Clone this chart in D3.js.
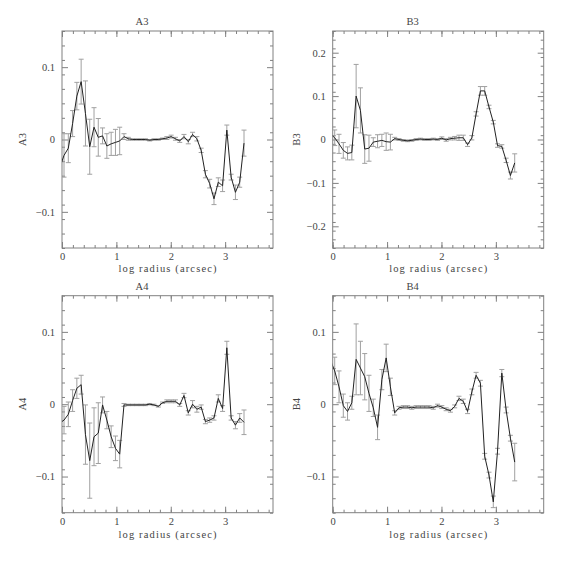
<!DOCTYPE html>
<html>
<head>
<meta charset="utf-8">
<script src="https://cdn.jsdelivr.net/npm/d3@7"></script>
<style>
  body { margin: 0; background: #fff; }
  text { font-family: 'Liberation Serif', serif; fill: #444; }
</style>
</head>
<body>
<script>
// log radius of each isophote (first one falls just left of the frame)
var logR = [-0.042, 0.037, 0.116, 0.195, 0.273, 0.352, 0.431, 0.510, 0.589, 0.667, 0.746,
  0.825, 0.904, 0.983, 1.061, 1.140, 1.219, 1.298, 1.377, 1.455, 1.534,
  1.613, 1.692, 1.771, 1.849, 1.928, 2.007, 2.086, 2.165, 2.243, 2.322,
  2.401, 2.480, 2.559, 2.637, 2.716, 2.795, 2.874, 2.953, 3.031, 3.110,
  3.189, 3.268, 3.347];

var a3 = [-0.039, -0.022, -0.012, 0.022, 0.060, 0.080, 0.036, -0.010, 0.017, 0.003, 0.005,
  -0.009, -0.006, -0.004, -0.002, 0.004, 0.001, 0.000, 0.000, 0.000, 0.000,
  -0.001, 0.000, 0.000, 0.001, 0.002, 0.004, 0.001, -0.002, 0.004, -0.003,
  0.007, 0.001, -0.015, -0.048, -0.061, -0.082, -0.059, -0.064, 0.013, -0.052,
  -0.073, -0.059, -0.005];
var a3Err = [0.030, 0.030, 0.020, 0.018, 0.019, 0.031, 0.045, 0.038, 0.027, 0.026, 0.011,
  0.017, 0.016, 0.018, 0.019, 0.004, 0.002, 0.001, 0.001, 0.001, 0.001,
  0.001, 0.001, 0.001, 0.001, 0.002, 0.002, 0.002, 0.002, 0.003, 0.003,
  0.003, 0.003, 0.003, 0.005, 0.006, 0.008, 0.006, 0.008, 0.007, 0.004,
  0.010, 0.007, 0.018];

var b3 = [0.0125, 0.004, -0.010, -0.025, -0.032, -0.030, 0.100, 0.067, -0.022, -0.020, -0.006,
  -0.004, -0.002, -0.005, -0.006, 0.002, 0.000, -0.002, -0.003, -0.002, 0.000,
  0.001, 0.000, 0.000, 0.001, 0.000, 0.003, -0.001, 0.002, 0.003, 0.004,
  0.004, -0.012, 0.004, 0.059, 0.112, 0.112, 0.075, 0.040, -0.014, -0.016,
  -0.048, -0.083, -0.054];
var b3Err = [0.018, 0.018, 0.022, 0.018, 0.015, 0.017, 0.073, 0.052, 0.033, 0.030, 0.010,
  0.015, 0.014, 0.020, 0.018, 0.003, 0.002, 0.002, 0.002, 0.002, 0.002,
  0.002, 0.002, 0.002, 0.002, 0.002, 0.003, 0.003, 0.003, 0.004, 0.006,
  0.006, 0.004, 0.005, 0.005, 0.010, 0.010, 0.004, 0.004, 0.004, 0.004,
  0.005, 0.008, 0.021];

var a4 = [-0.026, -0.022, -0.014, 0.005, 0.022, 0.027, -0.042, -0.078, -0.045, -0.040, -0.001,
  -0.022, -0.045, -0.061, -0.069, -0.001, -0.001, -0.001, -0.001, -0.001, -0.001,
  0.000, -0.001, -0.003, 0.002, 0.004, 0.004, 0.004, -0.001, 0.012, -0.012,
  0.000, -0.007, -0.004, -0.024, -0.022, -0.019, 0.008, -0.006, 0.078, -0.019,
  -0.029, -0.019, -0.025];
var a4Err = [0.019, 0.019, 0.017, 0.015, 0.014, 0.013, 0.041, 0.052, 0.040, 0.042, 0.011,
  0.012, 0.015, 0.017, 0.019, 0.002, 0.001, 0.001, 0.001, 0.001, 0.001,
  0.001, 0.001, 0.001, 0.001, 0.002, 0.002, 0.002, 0.002, 0.003, 0.003,
  0.005, 0.004, 0.003, 0.003, 0.003, 0.003, 0.005, 0.004, 0.009, 0.003,
  0.005, 0.006, 0.017];

var b4 = [0.061, 0.046, 0.024, -0.002, -0.010, 0.002, 0.062, 0.050, 0.038, 0.015, -0.005,
  -0.032, 0.034, 0.064, 0.024, -0.012, -0.005, -0.004, -0.004, -0.005, -0.004,
  -0.004, -0.004, -0.004, -0.005, -0.002, -0.004, -0.007, -0.009, -0.003, 0.008,
  0.004, -0.010, 0.017, 0.040, 0.029, -0.072, -0.098, -0.135, -0.065, 0.043,
  -0.008, -0.047, -0.080];
var b4Err = [0.019, 0.019, 0.022, 0.016, 0.012, 0.009, 0.049, 0.037, 0.032, 0.025, 0.012,
  0.017, 0.014, 0.019, 0.012, 0.003, 0.002, 0.002, 0.002, 0.002, 0.002,
  0.002, 0.002, 0.002, 0.002, 0.002, 0.002, 0.002, 0.002, 0.002, 0.003,
  0.003, 0.003, 0.004, 0.004, 0.004, 0.004, 0.004, 0.008, 0.004, 0.005,
  0.004, 0.004, 0.026];

var xTicks = [0, 1, 2, 3];
var yTicksNarrow = [-0.1, 0, 0.1];
var yTicksWide = [-0.2, -0.1, 0, 0.1, 0.2];

var panels = [
  { name: 'A3', vals: a3, errs: a3Err, ymax: 0.15, ticks: yTicksNarrow, col: 0, row: 0 },
  { name: 'B3', vals: b3, errs: b3Err, ymax: 0.25, ticks: yTicksWide, col: 1, row: 0 },
  { name: 'A4', vals: a4, errs: a4Err, ymax: 0.15, ticks: yTicksNarrow, col: 0, row: 1 },
  { name: 'B4', vals: b4, errs: b4Err, ymax: 0.15, ticks: yTicksNarrow, col: 1, row: 1 }
];

var colLeft = [62, 332.7];
var rowTop = [31, 295.7];
var rowLabelGap = [23.5, 25.5];
var yLabelX = [25.5, 300];
var w = 211, h = 217;

var svg = d3.select('body').append('svg')
    .attr('width', 574)
    .attr('height', 574);

var fmtY = function (d) {
  if (d === 0) return '0';
  return (d < 0 ? '\u2212' : '') + Math.abs(d).toFixed(1);
};
var fmtX = function (d) { return String(d); };

var range = function (a, b, s) {
  var out = [];
  for (var v = a; v <= b + 1e-9; v += s) out.push(Math.round(v * 1000) / 1000);
  return out;
};

panels.forEach(function (p, i) {
  var x = d3.scaleLinear().domain([0, 3.88]).range([0, w]);
  var y = d3.scaleLinear().domain([-p.ymax, p.ymax]).range([h, 0]);

  var g = svg.append('g')
      .attr('transform', 'translate(' + colLeft[p.col] + ',' + rowTop[p.row] + ')');

  g.append('clipPath')
      .attr('id', 'clip' + i)
    .append('rect')
      .attr('width', w)
      .attr('height', h);

  var xMinor = range(0, 3.8, 0.2);
  var yMinor = range(-p.ymax, p.ymax, 0.02);

  // ticks on all four sides, pointing inward
  var axes = [
    [d3.axisBottom(x).tickValues(xTicks).tickSize(-6).tickPadding(5).tickFormat(fmtX), 'translate(0,' + h + ')'],
    [d3.axisBottom(x).tickValues(xMinor).tickSize(-3).tickFormat(''), 'translate(0,' + h + ')'],
    [d3.axisTop(x).tickValues(xTicks).tickSize(-6).tickFormat(''), null],
    [d3.axisTop(x).tickValues(xMinor).tickSize(-3).tickFormat(''), null],
    [d3.axisLeft(y).tickValues(p.ticks).tickSize(-6).tickPadding(7).tickFormat(fmtY), null],
    [d3.axisLeft(y).tickValues(yMinor).tickSize(-3).tickFormat(''), null],
    [d3.axisRight(y).tickValues(p.ticks).tickSize(-6).tickFormat(''), 'translate(' + w + ',0)'],
    [d3.axisRight(y).tickValues(yMinor).tickSize(-3).tickFormat(''), 'translate(' + w + ',0)']
  ];
  axes.forEach(function (a) {
    var ag = g.append('g').call(a[0]);
    if (a[1]) ag.attr('transform', a[1]);
    ag.select('.domain').remove();
    ag.selectAll('line').attr('stroke', '#808080');
    ag.selectAll('text')
        .style('font-family', "'Liberation Serif', serif")
        .style('font-size', '10.5px')
        .attr('fill', '#444');
  });

  g.append('rect')
      .attr('width', w)
      .attr('height', h)
      .attr('fill', 'none')
      .attr('stroke', '#808080');

  var pts = logR.map(function (r, k) { return { r: r, v: p.vals[k], e: p.errs[k] }; });
  var plot = g.append('g').attr('clip-path', 'url(#clip' + i + ')');

  var bars = plot.selectAll('.err')
      .data(pts)
    .enter().append('g')
      .attr('class', 'err')
      .attr('stroke', '#a0a0a0')
      .attr('stroke-width', 1);
  bars.append('line')
      .attr('x1', function (d) { return x(d.r); })
      .attr('x2', function (d) { return x(d.r); })
      .attr('y1', function (d) { return y(d.v - d.e); })
      .attr('y2', function (d) { return y(d.v + d.e); });
  [-1, 1].forEach(function (s) {
    bars.append('line')
        .attr('x1', function (d) { return x(d.r) - 2.5; })
        .attr('x2', function (d) { return x(d.r) + 2.5; })
        .attr('y1', function (d) { return y(d.v + s * d.e); })
        .attr('y2', function (d) { return y(d.v + s * d.e); });
  });

  plot.append('path')
      .datum(pts)
      .attr('fill', 'none')
      .attr('stroke', '#222')
      .attr('stroke-width', 1)
      .attr('d', d3.line().x(function (d) { return x(d.r); }).y(function (d) { return y(d.v); }));

  g.append('text')
      .attr('x', 80)
      .attr('y', -6)
      .attr('text-anchor', 'middle')
      .style('font-size', '10.5px')
      .text(p.name);

  g.append('text')
      .attr('x', w / 2)
      .attr('y', h + rowLabelGap[p.row])
      .attr('text-anchor', 'middle')
      .attr('textLength', 98)
      .attr('lengthAdjust', 'spacing')
      .style('font-size', '10.5px')
      .text('log radius (arcsec)');

  svg.append('text')
      .attr('transform', 'translate(' + yLabelX[p.col] + ',' + (rowTop[p.row] + h / 2) + ') rotate(-90)')
      .attr('text-anchor', 'middle')
      .style('font-size', '10.5px')
      .text(p.name);
});
</script>
</body>
</html>
